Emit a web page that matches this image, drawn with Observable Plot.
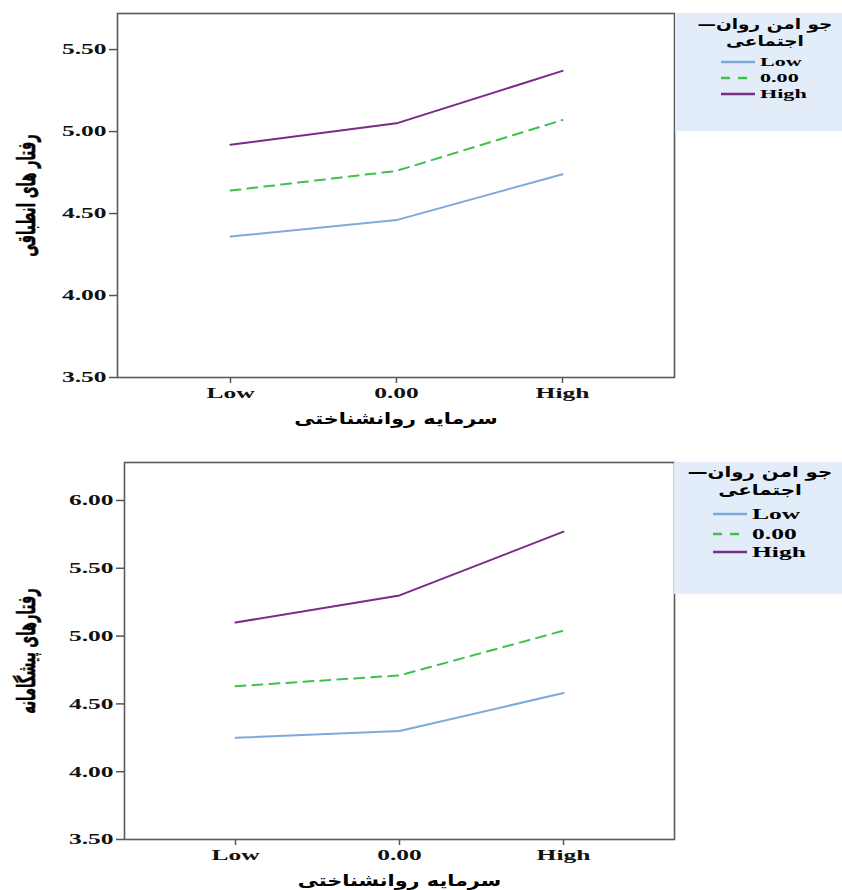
<!DOCTYPE html>
<html><head><meta charset="utf-8">
<script src="https://cdn.jsdelivr.net/npm/d3@7"></script>
<script src="https://cdn.jsdelivr.net/npm/@observablehq/plot@0.6"></script>
<style>
body{margin:0;background:#fff;width:842px;height:890px;position:relative;overflow:hidden}
.panel{position:absolute;left:0}
.legend{position:absolute;background:#e2edf9;font-family:"DejaVu Sans";}
.ltitle{position:absolute;font-weight:bold;text-align:center;direction:rtl;line-height:1;white-space:nowrap;color:#000;transform:scaleX(1.32);transform-origin:center center}
.litem{position:absolute;display:flex;align-items:center;}
.llab{display:inline-block;font-family:"Liberation Serif";font-weight:bold;transform:scaleX(1.7);transform-origin:left center;color:#000}
</style></head>
<body>
<div id="p1" class="panel" style="top:0"></div>
<div id="p2" class="panel" style="top:450px"></div>
<div id="lg1" class="legend" style="left:675px;top:13px;width:167px;height:118px"></div>
<div id="lg2" class="legend" style="left:674px;top:462px;width:168px;height:132px"></div>
<script>
// categories on the x axis (سرمایه روانشناختی)
const categories = ["Low", "0.00", "High"];
// moderator levels (جو امن روان اجتماعی)
const seriesNames = ["Low", "0.00", "High"];
const seriesColors = ["#7eaad9", "#3dc24a", "#7a2a87"];
const seriesDash = [null, "10,7", null];

// chart 1: رفتار های انطباقی
const chart1Low  = [4.36, 4.46, 4.74];
const chart1Mid  = [4.64, 4.76, 5.07];
const chart1High = [4.92, 5.05, 5.37];
const yTicks1 = [3.5, 4.0, 4.5, 5.0, 5.5];

// chart 2: رفتارهای پیشگامانه
const chart2Low  = [4.25, 4.30, 4.58];
const chart2Mid  = [4.63, 4.71, 5.04];
const chart2High = [5.10, 5.30, 5.77];
const yTicks2 = [3.5, 4.0, 4.5, 5.0, 5.5, 6.0];

const xTitle = "سرمایه روانشناختی";
const yTitle1 = "رفتار های انطباقی";
const yTitle2 = "رفتارهای پیشگامانه";
const legendTitle1 = "جو امن روان—";
const legendTitle2 = "اجتماعی";

function buildRows(seriesValues) {
  const rows = [];
  seriesValues.forEach((vals, si) => vals.forEach((v, ci) => rows.push({cat: categories[ci], series: seriesNames[si], value: v})));
  return rows;
}

function makeChart(opts) {
  const rows = buildRows(opts.values);
  const lines = seriesNames.map((s, i) => Plot.line(rows.filter(r => r.series === s), {
    x: "cat", y: "value", stroke: seriesColors[i], strokeWidth: 2,
    strokeDasharray: seriesDash[i] || undefined
  }));
  const svg = Plot.plot({
    width: 675, height: 440,
    marginLeft: opts.ml, marginTop: opts.mt, marginRight: opts.mr, marginBottom: 440 - opts.bottom,
    style: {background: "transparent", overflow: "visible"},
    x: {type: "point", domain: categories, padding: 0.67},
    y: {domain: opts.ydomain},
    marks: [
      Plot.axisY({ticks: opts.yticks, tickFormat: d3.format(".2f"), tickSize: 8, tickPadding: 3, label: null,
        fontSize: 15, fontWeight: "bold", fontFamily: "Liberation Serif", stroke: "#555", strokeWidth: 1.5, fill: "#111"}),
      Plot.axisX({tickSize: 6, tickPadding: 4, label: null,
        fontSize: 15, fontWeight: "bold", fontFamily: "Liberation Serif", stroke: "#555", strokeWidth: 1.5, fill: "#111"}),
      Plot.frame({stroke: "#5a5a5a", strokeWidth: 1.6}),
      ...lines,
      Plot.text([opts.ytitle], {frameAnchor: "left", dx: -opts.ytdx, rotate: -90, textAnchor: "middle", lineAnchor: "middle",
        fontSize: opts.ytsize, fontWeight: "bold", fontFamily: "DejaVu Sans", fill: "#000", stroke: "#000", strokeWidth: 0.3, className: "ytitle"}),
      Plot.text([xTitle], {frameAnchor: "bottom", dy: opts.xtdy, textAnchor: "middle", lineAnchor: "middle",
        fontSize: 16, fontWeight: "bold", fontFamily: "DejaVu Sans", fill: "#000", className: "xtitle"})
    ]
  });
  // horizontally stretch the texts, as in the (horizontally stretched) reference
  const stretch = (sel, s) => d3.select(svg).selectAll(sel).each(function() {
    const t = this.getAttribute("transform");
    if (t) this.setAttribute("transform", t + " " + s);
  });
  stretch('g[aria-label="y-axis tick label"] text, g[aria-label="x-axis tick label"] text', "scale(1.7,1)");
  stretch('g.xtitle text', "scale(1.3,1)");
  stretch('g.ytitle text', "scale(1,1.9)");
  return svg;
}

document.getElementById("p1").appendChild(makeChart({
  values: [chart1Low, chart1Mid, chart1High], ydomain: [3.5, 5.72], yticks: yTicks1,
  ml: 117, mt: 13, mr: 1, bottom: 377, ytitle: yTitle1, ytsize: 13, ytdx: 90, xtdy: 41
}));
document.getElementById("p2").appendChild(makeChart({
  values: [chart2Low, chart2Mid, chart2High], ydomain: [3.5, 6.28], yticks: yTicks2,
  ml: 124, mt: 12, mr: 1, bottom: 389, ytitle: yTitle2, ytsize: 13, ytdx: 97, xtdy: 41
}));

function makeLegend(el, o) {
  [legendTitle1, legendTitle2].forEach((t, k) => {
    const title = document.createElement("div");
    title.className = "ltitle";
    title.style.left = o.titleLeft + "px"; title.style.width = "150px";
    title.style.top = (o.titleTop + k * o.titleGap) + "px";
    title.style.fontSize = o.titleSize + "px";
    title.textContent = t;
    el.appendChild(title);
  });
  seriesNames.forEach((s, i) => {
    const item = document.createElement("div");
    item.className = "litem";
    item.style.left = o.lineX + "px";
    item.style.top = (o.ys[i] - 10) + "px";
    item.style.height = "20px";
    const ns = "http://www.w3.org/2000/svg";
    const sv = document.createElementNS(ns, "svg");
    sv.setAttribute("width", o.lineW); sv.setAttribute("height", 20);
    const ln = document.createElementNS(ns, "line");
    ln.setAttribute("x1", 0); ln.setAttribute("x2", o.lineW); ln.setAttribute("y1", 10); ln.setAttribute("y2", 10);
    ln.setAttribute("stroke", seriesColors[i]); ln.setAttribute("stroke-width", 2.5);
    if (seriesDash[i]) ln.setAttribute("stroke-dasharray", "9,8");
    sv.appendChild(ln);
    item.appendChild(sv);
    const lab = document.createElement("span");
    lab.className = "llab";
    lab.style.fontSize = o.labSize + "px";
    lab.style.marginLeft = o.gap + "px";
    lab.textContent = s;
    item.appendChild(lab);
    el.appendChild(item);
  });
}
makeLegend(document.getElementById("lg1"), {titleLeft: 15, titleTop: 4, titleGap: 17, titleSize: 14, lineX: 46, lineW: 34, gap: 5, labSize: 13, ys: [49, 65, 81]});
makeLegend(document.getElementById("lg2"), {titleLeft: 11, titleTop: 3, titleGap: 18, titleSize: 15, lineX: 39, lineW: 34, gap: 5, labSize: 15, ys: [52, 72, 90]});
</script>
</body></html>
